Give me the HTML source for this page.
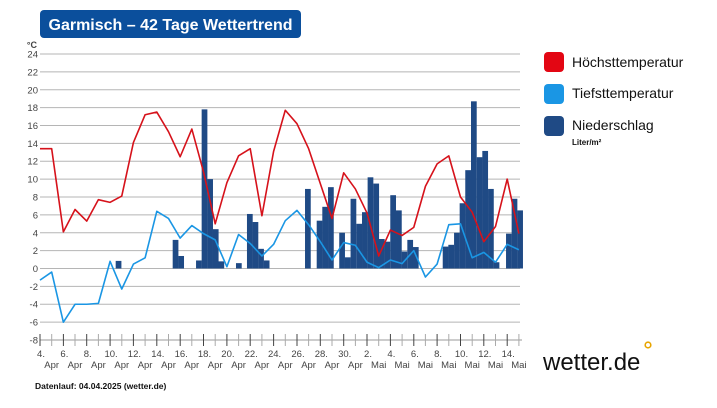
<!DOCTYPE html>
<html><head><meta charset="utf-8"><style>
html,body{margin:0;padding:0;background:#fff;}
body{width:717px;height:403px;overflow:hidden;font-family:"Liberation Sans",sans-serif;}
</style></head><body>
<svg width="717" height="403" viewBox="0 0 717 403" xmlns="http://www.w3.org/2000/svg" font-family="Liberation Sans, sans-serif">
<rect x="40" y="10" width="261" height="28" rx="4" fill="#0b4f9c"/>
<text x="170.5" y="30" text-anchor="middle" fill="#fff" font-size="16" font-weight="bold" textLength="244" lengthAdjust="spacingAndGlyphs">Garmisch – 42 Tage Wettertrend</text>
<g stroke="#b5b5b5" stroke-width="1">
<line x1="40" x2="520" y1="54.0" y2="54.0"/><line x1="40" x2="520" y1="71.9" y2="71.9"/><line x1="40" x2="520" y1="89.8" y2="89.8"/><line x1="40" x2="520" y1="107.6" y2="107.6"/><line x1="40" x2="520" y1="125.5" y2="125.5"/><line x1="40" x2="520" y1="143.4" y2="143.4"/><line x1="40" x2="520" y1="161.2" y2="161.2"/><line x1="40" x2="520" y1="179.1" y2="179.1"/><line x1="40" x2="520" y1="197.0" y2="197.0"/><line x1="40" x2="520" y1="214.9" y2="214.9"/><line x1="40" x2="520" y1="232.8" y2="232.8"/><line x1="40" x2="520" y1="250.6" y2="250.6"/><line x1="40" x2="520" y1="268.5" y2="268.5"/><line x1="40" x2="520" y1="286.4" y2="286.4"/><line x1="40" x2="520" y1="304.2" y2="304.2"/><line x1="40" x2="520" y1="322.1" y2="322.1"/>
</g>
<g font-size="9.5" fill="#444" text-anchor="end">
<text x="37" y="48" font-size="9" font-weight="bold">°C</text>
<text x="38" y="57.5">24</text><text x="38" y="75.4">22</text><text x="38" y="93.3">20</text><text x="38" y="111.1">18</text><text x="38" y="129">16</text><text x="38" y="146.9">14</text><text x="38" y="164.7">12</text><text x="38" y="182.6">10</text><text x="38" y="200.5">8</text><text x="38" y="218.4">6</text><text x="38" y="236.3">4</text><text x="38" y="254.1">2</text><text x="38" y="272">0</text><text x="38" y="289.9">-2</text><text x="38" y="307.7">-4</text><text x="38" y="325.6">-6</text><text x="38" y="343.5">-8</text>
</g>
<g transform="translate(40,268.5) scale(11.68,-8.94)" fill="#1f4a85">
<rect x="6.48" y="0" width="0.49" height="0.85"/><rect x="11.36" y="0" width="0.49" height="3.2"/><rect x="11.84" y="0" width="0.49" height="1.4"/><rect x="13.36" y="0" width="0.49" height="0.9"/><rect x="13.84" y="0" width="0.49" height="17.8"/><rect x="14.32" y="0" width="0.49" height="10"/><rect x="14.8" y="0" width="0.49" height="4.4"/><rect x="15.28" y="0" width="0.49" height="0.8"/><rect x="16.78" y="0" width="0.49" height="0.6"/><rect x="17.72" y="0" width="0.49" height="6.1"/><rect x="18.2" y="0" width="0.49" height="5.2"/><rect x="18.68" y="0" width="0.49" height="2.2"/><rect x="19.16" y="0" width="0.49" height="0.9"/>
<rect x="22.69" y="0" width="0.49" height="8.9"/><rect x="23.69" y="0" width="0.49" height="5.35"/><rect x="24.17" y="0" width="0.49" height="6.9"/><rect x="24.66" y="0" width="0.49" height="9.1"/><rect x="25.62" y="0" width="0.49" height="4.0"/><rect x="26.1" y="0" width="0.49" height="1.25"/><rect x="26.59" y="0" width="0.49" height="7.8"/><rect x="27.08" y="0" width="0.49" height="5.0"/><rect x="27.57" y="0" width="0.49" height="6.3"/><rect x="28.05" y="0" width="0.49" height="10.2"/><rect x="28.54" y="0" width="0.49" height="9.5"/><rect x="29.02" y="0" width="0.49" height="3.3"/><rect x="29.5" y="0" width="0.49" height="3.0"/><rect x="29.99" y="0" width="0.49" height="8.2"/><rect x="30.48" y="0" width="0.49" height="6.5"/><rect x="30.96" y="0" width="0.49" height="1.9"/><rect x="31.45" y="0" width="0.49" height="3.2"/><rect x="31.93" y="0" width="0.49" height="2.4"/>
<rect x="34.48" y="0" width="0.49" height="2.45"/><rect x="34.96" y="0" width="0.49" height="2.65"/><rect x="35.45" y="0" width="0.49" height="4.0"/><rect x="35.93" y="0" width="0.49" height="7.3"/><rect x="36.41" y="0" width="0.49" height="11.0"/><rect x="36.9" y="0" width="0.49" height="18.7"/><rect x="37.39" y="0" width="0.49" height="12.45"/><rect x="37.87" y="0" width="0.49" height="13.15"/><rect x="38.36" y="0" width="0.49" height="8.9"/><rect x="38.84" y="0" width="0.49" height="0.7"/><rect x="39.9" y="0" width="0.49" height="3.9"/><rect x="40.38" y="0" width="0.49" height="7.8"/><rect x="40.86" y="0" width="0.49" height="6.5"/>
<polyline fill="none" stroke="#d6121b" stroke-width="1.6" vector-effect="non-scaling-stroke" stroke-linejoin="round" points="0,13.4 1,13.4 2,4.1 3,6.6 4,5.3 5,7.7 6,7.4 7,8.1 8,14.1 9,17.2 10,17.5 11,15.3 12,12.5 13,15.6 14,10.8 15,5.0 16,9.6 17,12.6 18,13.4 19,5.9 20,13.1 21,17.7 22,16.2 23,13.4 24,9.5 25,5.6 26,10.7 27,8.9 28,6.2 29,1.4 30,4.3 31,3.7 32,4.6 33,9.2 34,11.7 35,12.6 36,8.0 37,6.3 38,3.0 39,4.7 40,10.0 41,3.9"/>
<polyline fill="none" stroke="#1a96e4" stroke-width="1.6" vector-effect="non-scaling-stroke" stroke-linejoin="round" points="0,-1.3 1,-0.4 2,-6.0 3,-4.0 4,-4.0 5,-3.9 6,0.8 7,-2.3 8,0.5 9,1.2 10,6.4 11,5.6 12,3.4 13,4.8 14,3.9 15,3.2 16,0.2 17,3.8 18,2.8 19,1.4 20,2.7 21,5.35 22,6.5 23,4.9 24,3.0 25,0.95 26,2.9 27,2.6 28,0.7 29,0.1 30,0.95 31,0.55 32,2.0 33,-0.95 34,0.5 35,4.9 36,5.0 37,1.2 38,1.8 39,0.7 40,2.7 41,2.1"/>
</g>
<line x1="40" x2="522" y1="340" y2="340" stroke="#999" stroke-width="1"/>
<g stroke="#aaa" stroke-width="1">
<line x1="51.7" x2="51.7" y1="334" y2="346"/><line x1="75.0" x2="75.0" y1="334" y2="346"/><line x1="98.4" x2="98.4" y1="334" y2="346"/><line x1="121.8" x2="121.8" y1="334" y2="346"/><line x1="145.1" x2="145.1" y1="334" y2="346"/><line x1="168.5" x2="168.5" y1="334" y2="346"/><line x1="191.8" x2="191.8" y1="334" y2="346"/><line x1="215.2" x2="215.2" y1="334" y2="346"/><line x1="238.6" x2="238.6" y1="334" y2="346"/><line x1="261.9" x2="261.9" y1="334" y2="346"/><line x1="285.3" x2="285.3" y1="334" y2="346"/><line x1="308.6" x2="308.6" y1="334" y2="346"/><line x1="332.0" x2="332.0" y1="334" y2="346"/><line x1="355.4" x2="355.4" y1="334" y2="346"/><line x1="378.7" x2="378.7" y1="334" y2="346"/><line x1="402.1" x2="402.1" y1="334" y2="346"/><line x1="425.4" x2="425.4" y1="334" y2="346"/><line x1="448.8" x2="448.8" y1="334" y2="346"/><line x1="472.2" x2="472.2" y1="334" y2="346"/><line x1="495.5" x2="495.5" y1="334" y2="346"/><line x1="518.9" x2="518.9" y1="334" y2="346"/>
</g>
<g stroke="#444" stroke-width="1">
<line x1="40.0" x2="40.0" y1="334" y2="346"/><line x1="63.4" x2="63.4" y1="334" y2="346"/><line x1="86.7" x2="86.7" y1="334" y2="346"/><line x1="110.1" x2="110.1" y1="334" y2="346"/><line x1="133.4" x2="133.4" y1="334" y2="346"/><line x1="156.8" x2="156.8" y1="334" y2="346"/><line x1="180.2" x2="180.2" y1="334" y2="346"/><line x1="203.5" x2="203.5" y1="334" y2="346"/><line x1="226.9" x2="226.9" y1="334" y2="346"/><line x1="250.2" x2="250.2" y1="334" y2="346"/><line x1="273.6" x2="273.6" y1="334" y2="346"/><line x1="297.0" x2="297.0" y1="334" y2="346"/><line x1="320.3" x2="320.3" y1="334" y2="346"/><line x1="343.7" x2="343.7" y1="334" y2="346"/><line x1="367.0" x2="367.0" y1="334" y2="346"/><line x1="390.4" x2="390.4" y1="334" y2="346"/><line x1="413.8" x2="413.8" y1="334" y2="346"/><line x1="437.1" x2="437.1" y1="334" y2="346"/><line x1="460.5" x2="460.5" y1="334" y2="346"/><line x1="483.8" x2="483.8" y1="334" y2="346"/><line x1="507.2" x2="507.2" y1="334" y2="346"/>
</g>
<g font-size="9.5" fill="#444" text-anchor="middle">
<text x="41" y="357">4.</text><text x="64.4" y="357">6.</text><text x="87.7" y="357">8.</text><text x="111.1" y="357">10.</text><text x="134.4" y="357">12.</text><text x="157.8" y="357">14.</text><text x="181.2" y="357">16.</text><text x="204.5" y="357">18.</text><text x="227.9" y="357">20.</text><text x="251.2" y="357">22.</text><text x="274.6" y="357">24.</text><text x="298" y="357">26.</text><text x="321.3" y="357">28.</text><text x="344.7" y="357">30.</text><text x="368" y="357">2.</text><text x="391.4" y="357">4.</text><text x="414.8" y="357">6.</text><text x="438.1" y="357">8.</text><text x="461.5" y="357">10.</text><text x="484.8" y="357">12.</text><text x="508.2" y="357">14.</text>
<text x="51.7" y="368">Apr</text><text x="75" y="368">Apr</text><text x="98.4" y="368">Apr</text><text x="121.8" y="368">Apr</text><text x="145.1" y="368">Apr</text><text x="168.5" y="368">Apr</text><text x="191.8" y="368">Apr</text><text x="215.2" y="368">Apr</text><text x="238.6" y="368">Apr</text><text x="261.9" y="368">Apr</text><text x="285.3" y="368">Apr</text><text x="308.6" y="368">Apr</text><text x="332" y="368">Apr</text><text x="355.4" y="368">Apr</text><text x="378.7" y="368">Mai</text><text x="402.1" y="368">Mai</text><text x="425.4" y="368">Mai</text><text x="448.8" y="368">Mai</text><text x="472.2" y="368">Mai</text><text x="495.5" y="368">Mai</text><text x="518.9" y="368">Mai</text>
</g>
<rect x="544" y="52" width="20" height="20" rx="4" fill="#e30613"/>
<rect x="544" y="84" width="20" height="20" rx="4" fill="#1a96e4"/>
<rect x="544" y="116" width="20" height="20" rx="4" fill="#1f4a85"/>
<g font-size="14" fill="#111">
<text x="572" y="67">Höchsttemperatur</text>
<text x="572" y="98">Tiefsttemperatur</text>
<text x="572" y="130">Niederschlag</text>
</g>
<text x="572" y="145" font-size="8" fill="#111" font-weight="bold">Liter/m²</text>
<text x="543" y="370" font-size="24" fill="#111">wetter.de</text>
<circle cx="648" cy="345" r="2.8" fill="none" stroke="#e8a500" stroke-width="1.6"/>
<text x="35" y="389" font-size="8.5" font-weight="bold" fill="#111">Datenlauf: 04.04.2025 (wetter.de)</text>
</svg>
</body></html>
